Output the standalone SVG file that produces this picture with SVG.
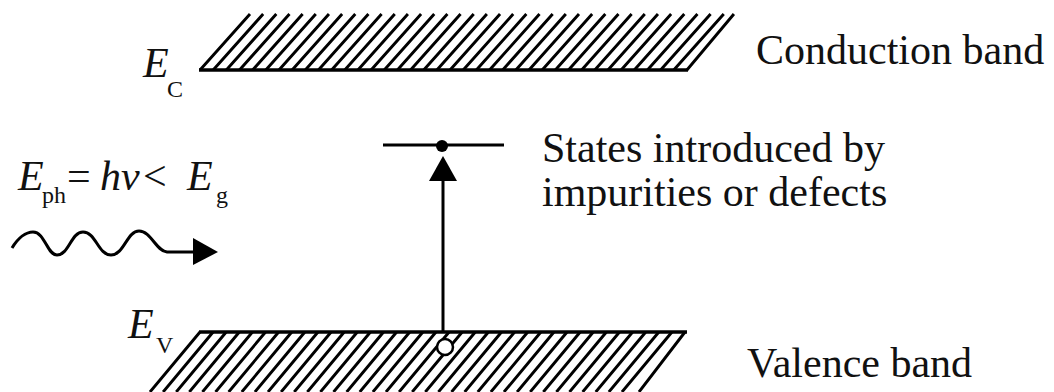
<svg xmlns="http://www.w3.org/2000/svg" width="1054" height="392" viewBox="0 0 1054 392">
<style>
.hatch{fill:none;stroke:#000;stroke-width:2.9}
.edge{fill:none;stroke:#000;stroke-width:3.6}
.line{fill:none;stroke:#000;stroke-width:3}
.t{font-family:"Liberation Serif","Times New Roman",serif;fill:#111}
.big{font-size:42px}
.it{font-style:italic}
.sub{font-size:24px}
</style>
<rect width="1054" height="392" fill="#fff"/>
<g id="conduction-band">
<path class="hatch" d="M200,70 l50,-56 M213.16,70 l50,-56 M226.32,70 l50,-56 M239.48,70 l50,-56 M252.64,70 l50,-56 M265.8,70 l50,-56 M278.96,70 l50,-56 M292.12,70 l50,-56 M305.28,70 l50,-56 M318.44,70 l50,-56 M331.6,70 l50,-56 M344.76,70 l50,-56 M357.92,70 l50,-56 M371.08,70 l50,-56 M384.24,70 l50,-56 M397.4,70 l50,-56 M410.56,70 l50,-56 M423.72,70 l50,-56 M436.88,70 l50,-56 M450.04,70 l50,-56 M463.2,70 l50,-56 M476.36,70 l50,-56 M489.52,70 l50,-56 M502.68,70 l50,-56 M515.84,70 l50,-56 M529,70 l50,-56 M542.16,70 l50,-56 M555.32,70 l50,-56 M568.48,70 l50,-56 M581.64,70 l50,-56 M594.8,70 l50,-56 M607.96,70 l50,-56 M621.12,70 l50,-56 M634.28,70 l50,-56 M647.44,70 l50,-56 M660.6,70 l50,-56 M673.76,70 l50,-56 M686.92,70 l47,-56"/>
<path class="edge" d="M199,70 H688"/>
<text class="t big" x="756" y="64">Conduction band</text>
<text class="t" x="143" y="77"><tspan class="it big">E</tspan><tspan class="sub" x="167" y="97">C</tspan></text>
</g>
<g id="valence-band">
<path class="hatch" d="M200,332 l-50,60 M213.11,332 l-50,60 M226.22,332 l-50,60 M239.33,332 l-50,60 M252.44,332 l-50,60 M265.55,332 l-50,60 M278.66,332 l-50,60 M291.77,332 l-50,60 M304.88,332 l-50,60 M317.99,332 l-50,60 M331.1,332 l-50,60 M344.21,332 l-50,60 M357.32,332 l-50,60 M370.43,332 l-50,60 M383.54,332 l-50,60 M396.65,332 l-50,60 M409.76,332 l-50,60 M422.87,332 l-50,60 M435.98,332 l-50,60 M449.09,332 l-50,60 M462.2,332 l-50,60 M475.31,332 l-50,60 M488.42,332 l-50,60 M501.53,332 l-50,60 M514.64,332 l-50,60 M527.75,332 l-50,60 M540.86,332 l-50,60 M553.97,332 l-50,60 M567.08,332 l-50,60 M580.19,332 l-50,60 M593.3,332 l-50,60 M606.41,332 l-50,60 M619.52,332 l-50,60 M632.63,332 l-50,60 M645.74,332 l-50,60 M658.85,332 l-50,60 M671.96,332 l-50,60 M685,332 l-46,60"/>
<path class="edge" d="M199,332 H687"/>
<text class="t big" x="747" y="377">Valence band</text>
<text class="t" x="128" y="338"><tspan class="it big">E</tspan><tspan class="sub" x="156" y="353">V</tspan></text>
</g>
<g id="impurity-state">
<path class="line" d="M383,145 H504"/>
<circle cx="442" cy="146" r="6" fill="#000"/>
<text class="t big" x="542" y="162">States introduced by</text>
<text class="t big" x="542" y="206">impurities or defects</text>
</g>
<g id="hole">
<circle cx="445" cy="347" r="8" fill="#fff" stroke="#000" stroke-width="2.5"/>
</g>
<g id="photon">
<path class="line" d="M12,248 C18,238 26,232 33,232 C45,232 47,255 57,255 C69,255 71,232 83,232 C96,232 98,255 111,255 C124,255 127,231 139,231 C151,231 156,251 167,252 L198,252"/>
<polygon points="193,238 218,252 193,265" fill="#000"/>
<text class="t" x="18" y="190"><tspan class="it big">E</tspan><tspan class="sub" font-size="26" x="42" y="203">ph</tspan><tspan class="big" x="67" y="190">=</tspan><tspan class="it big" x="100" y="190">hν</tspan><tspan class="big" x="143" y="190">&lt;</tspan><tspan class="it big" x="187" y="190">E</tspan><tspan class="sub" font-size="26" x="216" y="203">g</tspan></text>
</g>
<g id="connectors">
<path class="line" d="M443,331 V180"/>
<polygon points="429,181 457,181 443,156" fill="#000"/>
</g>
</svg>
